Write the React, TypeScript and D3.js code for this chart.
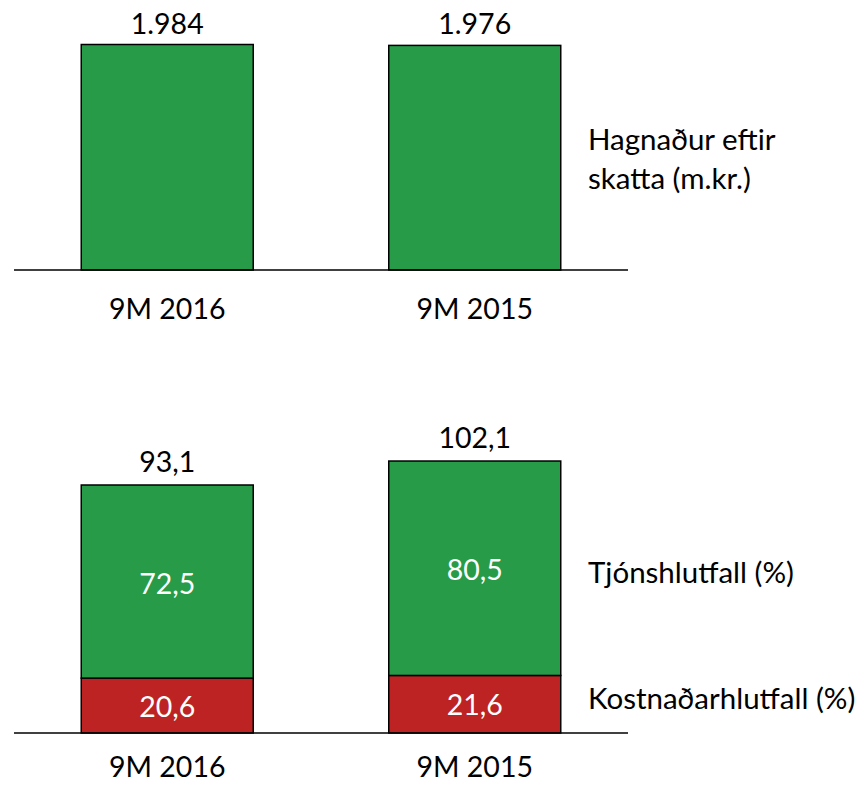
import React from "react";
import * as d3 from "d3";

const categories = ["9M 2016", "9M 2015"];
const profit = [1984, 1976];
const profitLabels = ["1.984", "1.976"];
const costRatio = [20.6, 21.6];
const lossRatio = [72.5, 80.5];
const combinedLabels = ["93,1", "102,1"];
const costLabels = ["20,6", "21,6"];
const lossLabels = ["72,5", "80,5"];

const GREEN = "#279B48";
const RED = "#BE2323";
const FONT = "Lato, 'Open Sans', sans-serif";

export default function App() {
  const W = 859, H = 785;
  const x = d3.scaleBand<string>().domain(categories).range([14, 628]).paddingInner(0.4407).paddingOuter(0.2187);
  const bw = x.bandwidth();

  const yTop = d3.scaleLinear().domain([0, 1984]).range([270, 44.5]);
  const yBot = d3.scaleLinear().domain([0, 93.1]).range([733, 485]);
  const fs = 28.5;
  const fsR = 29.5;

  return (
    <svg width={W} height={H} style={{ position: "absolute", left: 0, top: 0, display: "block" }} fontFamily={FONT}>
      <rect width={W} height={H} fill="#fff" />
      {/* top chart */}
      {categories.map((c, i) => (
        <g key={"t" + c}>
          <rect x={x(c)!} y={yTop(profit[i])} width={bw} height={yTop(0) - yTop(profit[i])} fill={GREEN} stroke="#000" strokeWidth={1.5} />
          <text x={x(c)! + bw / 2} y={yTop(profit[i]) - 11} textAnchor="middle" fontSize={fs} fill="#000">{profitLabels[i]}</text>
          <text x={x(c)! + bw / 2} y={319} textAnchor="middle" fontSize={fs} fill="#000">{c}</text>
        </g>
      ))}
      <line x1={14} x2={628} y1={yTop(0)} y2={yTop(0)} stroke="#000" strokeWidth={1.5} />
      <text x={588} y={150} fontSize={fsR} fill="#000">Hagnaður eftir</text>
      <text x={588} y={189} fontSize={fsR} fill="#000">skatta (m.kr.)</text>

      {/* bottom chart */}
      {categories.map((c, i) => {
        const total = costRatio[i] + lossRatio[i];
        return (
          <g key={"b" + c}>
            <rect x={x(c)!} y={yBot(costRatio[i])} width={bw} height={yBot(0) - yBot(costRatio[i])} fill={RED} stroke="#000" strokeWidth={1.5} />
            <rect x={x(c)!} y={yBot(total)} width={bw} height={yBot(costRatio[i]) - yBot(total)} fill={GREEN} stroke="#000" strokeWidth={1.5} />
            <text x={x(c)! + bw / 2} y={(yBot(0) + yBot(costRatio[i])) / 2 + 11} textAnchor="middle" fontSize={fs} fill="#fff">{costLabels[i]}</text>
            <text x={x(c)! + bw / 2} y={(yBot(costRatio[i]) + yBot(total)) / 2 + 12} textAnchor="middle" fontSize={fs} fill="#fff">{lossLabels[i]}</text>
            <text x={x(c)! + bw / 2} y={yBot(total) - 13} textAnchor="middle" fontSize={fs} fill="#000">{combinedLabels[i]}</text>
            <text x={x(c)! + bw / 2} y={777} textAnchor="middle" fontSize={fs} fill="#000">{c}</text>
          </g>
        );
      })}
      <line x1={14} x2={628} y1={yBot(0)} y2={yBot(0)} stroke="#000" strokeWidth={1.5} />
      <text x={588} y={583} fontSize={fsR} fill="#000">Tjónshlutfall (%)</text>
      <text x={588} y={709} fontSize={fsR} fill="#000">Kostnaðarhlutfall (%)</text>
    </svg>
  );
}
